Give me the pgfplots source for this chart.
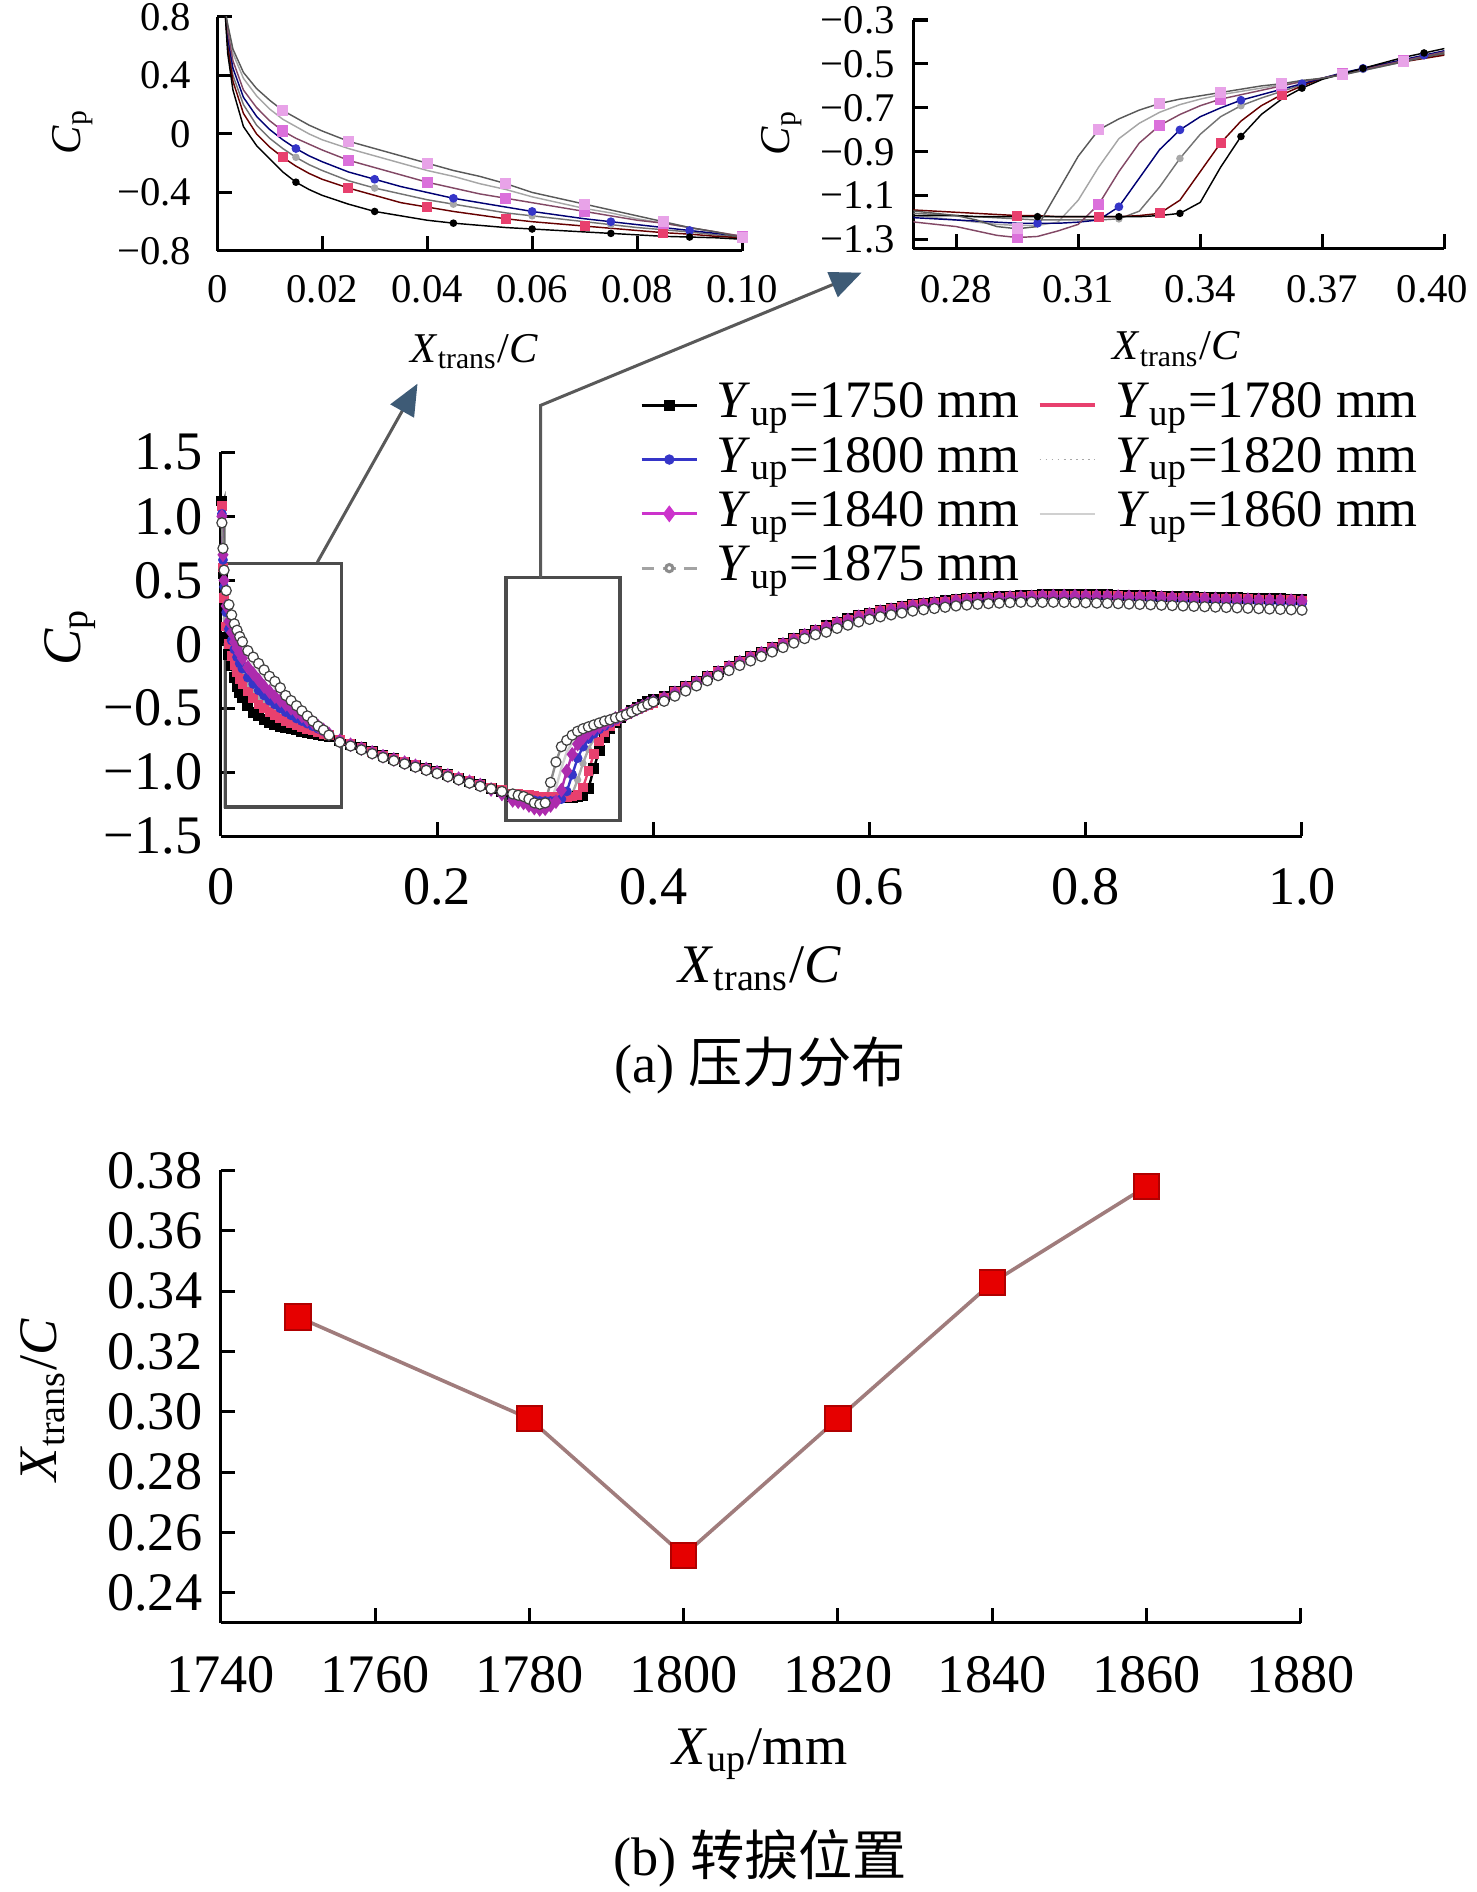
\documentclass[border=0pt]{standalone}
\usepackage{fontspec}
\setmainfont{Liberation Serif}
\newfontfamily\cjk{Noto Sans CJK SC}
\usepackage{pgfplots}
\pgfplotsset{compat=1.18}
\usepackage{pgfplotstable}
\usetikzlibrary{arrows.meta}

\definecolor{c1780}{HTML}{E8406E}
\definecolor{c1800}{HTML}{3535C8}
\definecolor{c1820}{HTML}{A8A8A8}
\definecolor{c1840}{HTML}{CC33CC}
\definecolor{c1860}{HTML}{D0D0D0}
\definecolor{c1875}{HTML}{8C8C8C}
\definecolor{arrowblue}{HTML}{3E5B76}
\definecolor{rose}{HTML}{A07C7C}
\definecolor{sqred}{HTML}{E60000}
\definecolor{sqedge}{HTML}{B00000}

% columns: a=1750 b=1780 c=1800 d=1820 e=1840 f=1860 g=1875
\pgfplotstableread{
x a b c d e f g
0.001 1.12 1.08 1.02 1.05 1.00 0.98 0.95
0.002 0.55 0.60 0.66 0.63 0.70 0.72 0.75
0.003 0.30 0.36 0.45 0.40 0.50 0.55 0.58
0.005 0.05 0.14 0.25 0.20 0.30 0.38 0.42
0.0075 -0.08 0.00 0.12 0.06 0.18 0.26 0.31
0.010 -0.17 -0.09 0.03 -0.03 0.09 0.17 0.23
0.0125 -0.26 -0.16 -0.04 -0.10 0.02 0.10 0.16
0.015 -0.33 -0.22 -0.10 -0.16 -0.03 0.05 0.11
0.0175 -0.38 -0.27 -0.15 -0.21 -0.07 0.00 0.06
0.020 -0.42 -0.31 -0.19 -0.25 -0.11 -0.04 0.02
0.025 -0.48 -0.37 -0.26 -0.32 -0.18 -0.10 -0.05
0.030 -0.53 -0.42 -0.31 -0.37 -0.23 -0.15 -0.10
0.035 -0.56 -0.47 -0.36 -0.41 -0.28 -0.20 -0.15
0.040 -0.59 -0.50 -0.40 -0.45 -0.33 -0.25 -0.20
0.045 -0.61 -0.53 -0.44 -0.48 -0.37 -0.29 -0.25
0.050 -0.625 -0.555 -0.47 -0.51 -0.41 -0.34 -0.29
0.055 -0.64 -0.58 -0.50 -0.54 -0.44 -0.38 -0.34
0.060 -0.65 -0.60 -0.53 -0.56 -0.47 -0.43 -0.40
0.065 -0.66 -0.615 -0.555 -0.58 -0.50 -0.47 -0.44
0.070 -0.67 -0.63 -0.58 -0.60 -0.53 -0.51 -0.48
0.075 -0.68 -0.645 -0.60 -0.62 -0.56 -0.54 -0.52
0.080 -0.69 -0.66 -0.62 -0.64 -0.59 -0.58 -0.56
0.085 -0.70 -0.675 -0.64 -0.655 -0.61 -0.61 -0.60
0.090 -0.705 -0.685 -0.66 -0.67 -0.64 -0.64 -0.64
0.095 -0.71 -0.70 -0.68 -0.69 -0.67 -0.67 -0.67
0.100 -0.72 -0.71 -0.70 -0.71 -0.70 -0.70 -0.71
0.11 -0.75 -0.75 -0.755 -0.745 -0.755 -0.75 -0.765
0.12 -0.78 -0.78 -0.785 -0.775 -0.785 -0.78 -0.795
0.13 -0.81 -0.81 -0.815 -0.805 -0.815 -0.81 -0.825
0.14 -0.84 -0.84 -0.845 -0.835 -0.845 -0.84 -0.855
0.15 -0.87 -0.87 -0.875 -0.865 -0.875 -0.87 -0.885
0.16 -0.895 -0.895 -0.90 -0.89 -0.90 -0.895 -0.91
0.17 -0.92 -0.92 -0.925 -0.915 -0.925 -0.92 -0.935
0.18 -0.945 -0.945 -0.95 -0.94 -0.95 -0.945 -0.96
0.19 -0.97 -0.97 -0.975 -0.965 -0.975 -0.97 -0.985
0.20 -0.995 -0.995 -1.00 -0.99 -1.00 -0.995 -1.01
0.21 -1.02 -1.02 -1.025 -1.015 -1.025 -1.02 -1.035
0.22 -1.045 -1.045 -1.05 -1.04 -1.05 -1.045 -1.06
0.23 -1.07 -1.07 -1.075 -1.065 -1.075 -1.07 -1.085
0.24 -1.095 -1.095 -1.10 -1.09 -1.10 -1.095 -1.11
0.25 -1.125 -1.12 -1.13 -1.12 -1.135 -1.13 -1.13
0.26 -1.15 -1.14 -1.16 -1.15 -1.17 -1.16 -1.15
0.270 -1.19 -1.165 -1.20 -1.18 -1.22 -1.19 -1.17
0.275 -1.19 -1.17 -1.205 -1.185 -1.23 -1.20 -1.18
0.280 -1.19 -1.175 -1.21 -1.19 -1.24 -1.21 -1.19
0.285 -1.195 -1.18 -1.215 -1.195 -1.26 -1.22 -1.21
0.290 -1.195 -1.185 -1.22 -1.20 -1.28 -1.23 -1.24
0.295 -1.195 -1.19 -1.225 -1.205 -1.29 -1.235 -1.25
0.300 -1.195 -1.19 -1.225 -1.21 -1.285 -1.235 -1.24
0.305 -1.195 -1.195 -1.225 -1.21 -1.26 -1.22 -1.08
0.310 -1.195 -1.195 -1.22 -1.21 -1.23 -1.12 -0.92
0.315 -1.195 -1.195 -1.21 -1.21 -1.14 -0.97 -0.80
0.320 -1.195 -1.195 -1.15 -1.205 -0.99 -0.84 -0.75
0.325 -1.195 -1.19 -1.02 -1.17 -0.86 -0.77 -0.71
0.330 -1.19 -1.18 -0.89 -1.06 -0.78 -0.72 -0.68
0.335 -1.18 -1.12 -0.80 -0.93 -0.73 -0.685 -0.66
0.340 -1.13 -0.99 -0.74 -0.82 -0.69 -0.66 -0.645
0.345 -0.97 -0.86 -0.70 -0.74 -0.66 -0.64 -0.63
0.350 -0.83 -0.76 -0.665 -0.69 -0.64 -0.625 -0.615
0.355 -0.73 -0.69 -0.64 -0.655 -0.62 -0.61 -0.60
0.360 -0.66 -0.64 -0.615 -0.625 -0.60 -0.595 -0.59
0.365 -0.61 -0.60 -0.59 -0.595 -0.58 -0.58 -0.575
0.370 -0.57 -0.565 -0.565 -0.565 -0.565 -0.565 -0.565
0.375 -0.545 -0.545 -0.54 -0.545 -0.545 -0.548 -0.55
0.380 -0.52 -0.525 -0.52 -0.525 -0.525 -0.53 -0.53
0.385 -0.495 -0.505 -0.50 -0.505 -0.505 -0.51 -0.51
0.390 -0.47 -0.49 -0.48 -0.485 -0.485 -0.49 -0.49
0.395 -0.45 -0.475 -0.46 -0.47 -0.465 -0.47 -0.47
0.400 -0.43 -0.46 -0.44 -0.455 -0.445 -0.455 -0.45
0.41 -0.41 -0.415 -0.425 -0.42 -0.42 -0.43 -0.445
0.42 -0.37 -0.375 -0.385 -0.38 -0.38 -0.39 -0.405
0.43 -0.33 -0.335 -0.345 -0.34 -0.34 -0.35 -0.365
0.44 -0.29 -0.295 -0.305 -0.30 -0.30 -0.31 -0.325
0.45 -0.25 -0.255 -0.265 -0.26 -0.26 -0.27 -0.285
0.46 -0.21 -0.215 -0.225 -0.22 -0.22 -0.23 -0.245
0.47 -0.17 -0.175 -0.185 -0.18 -0.18 -0.19 -0.205
0.48 -0.13 -0.135 -0.145 -0.14 -0.14 -0.15 -0.165
0.49 -0.095 -0.10 -0.11 -0.105 -0.105 -0.115 -0.13
0.50 -0.06 -0.065 -0.075 -0.07 -0.07 -0.08 -0.095
0.51 -0.025 -0.03 -0.04 -0.035 -0.035 -0.045 -0.06
0.52 0.01 0.005 -0.005 0.00 0.00 -0.01 -0.025
0.53 0.045 0.04 0.03 0.035 0.035 0.025 0.01
0.54 0.08 0.075 0.065 0.07 0.07 0.06 0.045
0.55 0.11 0.105 0.095 0.10 0.10 0.09 0.075
0.56 0.145 0.14 0.12 0.13 0.135 0.115 0.095
0.57 0.175 0.17 0.15 0.16 0.165 0.145 0.125
0.58 0.20 0.195 0.175 0.185 0.19 0.17 0.15
0.59 0.225 0.22 0.20 0.21 0.215 0.195 0.175
0.60 0.245 0.24 0.22 0.23 0.235 0.215 0.195
0.61 0.265 0.26 0.24 0.25 0.255 0.235 0.215
0.62 0.28 0.275 0.255 0.265 0.27 0.25 0.23
0.63 0.295 0.29 0.27 0.28 0.285 0.265 0.245
0.64 0.31 0.305 0.285 0.295 0.30 0.28 0.26
0.65 0.32 0.315 0.295 0.305 0.31 0.29 0.27
0.66 0.33 0.325 0.305 0.315 0.32 0.30 0.28
0.67 0.34 0.335 0.315 0.325 0.33 0.31 0.29
0.68 0.35 0.345 0.325 0.335 0.34 0.32 0.30
0.69 0.357 0.352 0.332 0.342 0.347 0.327 0.307
0.70 0.363 0.358 0.338 0.348 0.353 0.333 0.313
0.71 0.368 0.363 0.343 0.353 0.358 0.338 0.318
0.72 0.372 0.367 0.347 0.357 0.362 0.342 0.322
0.73 0.376 0.371 0.351 0.361 0.366 0.346 0.326
0.74 0.379 0.374 0.354 0.364 0.369 0.349 0.329
0.75 0.381 0.376 0.356 0.366 0.371 0.351 0.331
0.76 0.388 0.38 0.356 0.368 0.376 0.348 0.328
0.77 0.39 0.382 0.358 0.37 0.378 0.35 0.329
0.78 0.39 0.382 0.358 0.37 0.378 0.35 0.328
0.79 0.39 0.382 0.358 0.37 0.378 0.35 0.327
0.80 0.389 0.381 0.357 0.369 0.377 0.349 0.325
0.81 0.388 0.38 0.356 0.368 0.376 0.348 0.323
0.82 0.387 0.379 0.355 0.367 0.375 0.347 0.321
0.83 0.385 0.377 0.353 0.365 0.373 0.345 0.318
0.84 0.383 0.375 0.351 0.363 0.371 0.343 0.315
0.85 0.381 0.373 0.349 0.361 0.369 0.341 0.312
0.86 0.379 0.371 0.347 0.359 0.367 0.339 0.309
0.87 0.377 0.369 0.345 0.357 0.365 0.337 0.306
0.88 0.375 0.367 0.343 0.355 0.363 0.335 0.303
0.89 0.373 0.365 0.341 0.353 0.361 0.333 0.300
0.90 0.371 0.363 0.339 0.351 0.359 0.331 0.297
0.91 0.369 0.361 0.337 0.349 0.357 0.329 0.294
0.92 0.367 0.359 0.335 0.347 0.355 0.327 0.291
0.93 0.365 0.357 0.333 0.345 0.353 0.325 0.288
0.94 0.363 0.355 0.331 0.343 0.351 0.323 0.285
0.95 0.361 0.353 0.329 0.341 0.349 0.321 0.282
0.96 0.359 0.351 0.327 0.339 0.347 0.319 0.279
0.97 0.357 0.349 0.325 0.337 0.345 0.317 0.276
0.98 0.355 0.347 0.323 0.335 0.343 0.315 0.273
0.99 0.353 0.345 0.321 0.333 0.341 0.313 0.270
1.00 0.351 0.343 0.319 0.331 0.339 0.311 0.267
}\cpdata

\pgfplotsset{
  myaxis/.style={scale only axis, anchor=south west,
    axis x line*=bottom, axis y line*=left, tick align=inside,
    major tick length=1.2mm,
    axis line style={line width=0.25mm, black},
    major tick style={line width=0.25mm, black}},
  bigfont/.style={tick label style={font=\fontsize{12.8}{15}\selectfont},
    label style={font=\fontsize{12.8}{15}\selectfont}},
  smallfont/.style={tick label style={font=\fontsize{9.6}{11.5}\selectfont},
    label style={font=\fontsize{10}{12}\selectfont}},
  insetline/.style={line width=0.12mm},
}

\begin{document}
\begin{tikzpicture}
\useasboundingbox (0,0) rectangle (122.4mm,156.8mm);

% ---------------- inset 1 ----------------
\begin{axis}[myaxis, smallfont, at={(18.0mm,136.0mm)}, width=43.5mm, height=19.4mm,
  xmin=0, xmax=0.1, ymin=-0.8, ymax=0.8,
  xtick={0,0.02,0.04,0.06,0.08,0.1}, xticklabels={0,0.02,0.04,0.06,0.08,0.10},
  ytick={-0.8,-0.4,0,0.4,0.8}, yticklabels={−0.8,−0.4,0,0.4,0.8},
  xticklabel style={yshift=-0.8mm}, yticklabel style={xshift=-0.9mm},
  xlabel={\textit{X}\textsubscript{trans}/\textit{C}}, ylabel={\textit{C}\textsubscript{p}},
  xlabel style={at={(axis description cs:0.49,-0.43)}, anchor=center},
  ylabel style={at={(axis description cs:-0.276,0.51)}, anchor=center}]
\addplot[black!35, insetline] table[x=x,y=f]{\cpdata};
\addplot[black!55, insetline, mark=*, mark size=0.25mm, mark options={c1820}, mark indices={7,11,14,17,20,23,46,50,54,58,62,66}] table[x=x,y=d]{\cpdata};
\addplot[red!40!black, insetline, mark=square*, mark size=0.35mm, mark options={c1780}, mark indices={6,10,13,16,19,22,25,45,49,53,57,61,65,69}] table[x=x,y=b]{\cpdata};
\addplot[blue!45!black, insetline, mark=*, mark size=0.3mm, mark options={c1800}, mark indices={7,11,14,17,20,23,26,46,50,54,58,62,66}] table[x=x,y=c]{\cpdata};
\addplot[magenta!45!black, insetline, mark=square*, mark size=0.4mm, mark options={c1840!70}, mark indices={6,10,13,16,19,22,25,45,49,53,57,61,65,69}] table[x=x,y=e]{\cpdata};
\addplot[black, insetline, mark=*, mark size=0.25mm, mark indices={7,11,14,17,20,23,26,46,50,54,58,62,66}] table[x=x,y=a]{\cpdata};
\addplot[black!65, insetline, mark=square*, mark size=0.4mm, mark options={c1840!45}, mark indices={6,10,13,16,19,22,25,45,49,53,57,61,65,69}] table[x=x,y=g]{\cpdata};
\end{axis}

% ---------------- inset 2 ----------------
\begin{axis}[myaxis, smallfont, at={(75.7mm,136.2mm)}, width=44.0mm, height=18.94mm,
  xmin=0.2695, xmax=0.40, ymin=-1.34, ymax=-0.3,
  xtick={0.28,0.31,0.34,0.37,0.40}, xticklabels={0.28,0.31,0.34,0.37,{\hspace*{-2mm}0.40}},
  ytick={-1.3,-1.1,-0.9,-0.7,-0.5,-0.3}, yticklabels={−1.3,−1.1,−0.9,−0.7,−0.5,−0.3},
  xticklabel style={yshift=-1.0mm}, yticklabel style={xshift=-0.3mm},
  xlabel={\textit{X}\textsubscript{trans}/\textit{C}}, ylabel={\textit{C}\textsubscript{p}},
  xlabel style={at={(axis description cs:0.495,-0.44)}, anchor=center},
  ylabel style={at={(axis description cs:-0.248,0.507)}, anchor=center}]
\addplot[black!35, insetline] table[x=x,y=f]{\cpdata};
\addplot[black!55, insetline, mark=*, mark size=0.25mm, mark options={c1820}, mark indices={7,11,14,17,20,23,46,50,54,58,62,66}] table[x=x,y=d]{\cpdata};
\addplot[red!40!black, insetline, mark=square*, mark size=0.35mm, mark options={c1780}, mark indices={6,10,13,16,19,22,25,45,49,53,57,61,65,69}] table[x=x,y=b]{\cpdata};
\addplot[blue!45!black, insetline, mark=*, mark size=0.3mm, mark options={c1800}, mark indices={7,11,14,17,20,23,26,46,50,54,58,62,66}] table[x=x,y=c]{\cpdata};
\addplot[magenta!45!black, insetline, mark=square*, mark size=0.4mm, mark options={c1840!70}, mark indices={6,10,13,16,19,22,25,45,49,53,57,61,65,69}] table[x=x,y=e]{\cpdata};
\addplot[black, insetline, mark=*, mark size=0.25mm, mark indices={7,11,14,17,20,23,26,46,50,54,58,62,66}] table[x=x,y=a]{\cpdata};
\addplot[black!65, insetline, mark=square*, mark size=0.4mm, mark options={c1840!45}, mark indices={6,10,13,16,19,22,25,45,49,53,57,61,65,69}] table[x=x,y=g]{\cpdata};
\end{axis}

% ---------------- main plot ----------------
\begin{axis}[myaxis, bigfont, at={(18.3mm,87.5mm)}, width=89.6mm, height=31.8mm,
  xmin=0, xmax=1, ymin=-1.5, ymax=1.5,
  xtick={0,0.2,0.4,0.6,0.8,1}, xticklabels={0,0.2,0.4,0.6,0.8,1.0},
  ytick={-1.5,-1,-0.5,0,0.5,1,1.5}, yticklabels={−1.5,−1.0,−0.5,0,0.5,1.0,1.5},
  xticklabel style={yshift=-1.4mm}, yticklabel style={xshift=-0.3mm},
  xlabel={\textit{X}\textsubscript{trans}/\textit{C}}, ylabel={\textit{C}\textsubscript{p}},
  xlabel style={at={(axis description cs:0.499,-0.345)}, anchor=center},
  ylabel style={at={(axis description cs:-0.1395,0.519)}, anchor=center},
  legend columns=2, legend cell align=left,
  legend style={at={(0.387,1.196)}, anchor=north west, draw=none, fill=none,
    inner sep=0pt, font=\fontsize{12.4}{15}\selectfont, column sep=1.5mm, row sep=0pt,
    nodes={inner sep=0pt, text height=3.3mm, text depth=1.2mm}},
  legend image code/.code={\draw[mark repeat=2,mark phase=2,#1] plot coordinates {(0mm,0mm) (2.3mm,0mm) (4.6mm,0mm)};}]
\addplot[c1860, line width=0.2mm, forget plot] table[x=x,y=f]{\cpdata};
\addplot[c1820, line width=0.2mm, mark=*, mark size=0.2mm, forget plot] table[x=x,y=d]{\cpdata};
\addplot[black, line width=0.2mm, mark=square*, mark size=0.35mm, forget plot] table[x=x,y=a]{\cpdata};
\addplot[c1780, line width=0.2mm, mark=square*, mark size=0.3mm, forget plot] table[x=x,y=b]{\cpdata};
\addplot[c1800, line width=0.2mm, mark=*, mark size=0.3mm, forget plot] table[x=x,y=c]{\cpdata};
\addplot[c1840!85!black, line width=0.2mm, mark=diamond*, mark size=0.45mm, forget plot] table[x=x,y=e]{\cpdata};
\addplot[c1875, line width=0.2mm, mark=*, mark size=0.42mm, mark options={fill=white, draw=black!75, line width=0.1mm}, forget plot] table[x=x,y=g]{\cpdata};
\addplot[black!60, line width=0.15mm, forget plot] coordinates {(0.0035,-1.28) (0.0035,1.15) (0.001,1.08)};
\draw[line width=0.3mm, black!70] (axis cs:0.0045,0.632) rectangle (axis cs:0.1116,-1.274);
\draw[line width=0.3mm, black!70] (axis cs:0.264,0.522) rectangle (axis cs:0.369,-1.377);
\addlegendimage{black, line width=0.25mm, mark=square*, mark size=0.35mm}
\addlegendentry{\textit{Y}\textsubscript{up}=1750 mm}
\addlegendimage{c1780, line width=0.35mm}
\addlegendentry{\textit{Y}\textsubscript{up}=1780 mm}
\addlegendimage{c1800, line width=0.25mm, mark=*, mark size=0.3mm}
\addlegendentry{\textit{Y}\textsubscript{up}=1800 mm}
\addlegendimage{c1820, line width=0.15mm, densely dotted}
\addlegendentry{\textit{Y}\textsubscript{up}=1820 mm}
\addlegendimage{c1840, line width=0.25mm, mark=diamond*, mark size=0.5mm}
\addlegendentry{\textit{Y}\textsubscript{up}=1840 mm}
\addlegendimage{c1860, line width=0.15mm}
\addlegendentry{\textit{Y}\textsubscript{up}=1860 mm}
\addlegendimage{c1875!80, line width=0.25mm, densely dashed, mark=*, mark size=0.3mm, mark options={solid, fill=white, draw=c1875}}
\addlegendentry{\textit{Y}\textsubscript{up}=1875 mm}
\end{axis}

% zoom arrows
\draw[line width=0.25mm, black!65, -{Triangle[length=2.6mm,width=2.2mm,color=arrowblue]}] (26.3mm,110.2mm) -- (34.6mm,125.0mm);
\draw[line width=0.25mm, black!65, -{Triangle[length=2.6mm,width=2.2mm,color=arrowblue]}] (44.8mm,108.9mm) -- (44.8mm,123.2mm) -- (71.4mm,134.2mm);

\node[font=\fontsize{12.8}{15}\selectfont] at (63mm,68.5mm) {(a) {\cjk 压力分布}};

% ---------------- bottom plot ----------------
\begin{axis}[myaxis, bigfont, at={(18.3mm,22.3mm)}, width=89.5mm, height=37.5mm,
  xmin=1740, xmax=1880, ymin=0.230, ymax=0.38,
  xtick={1740,1760,1780,1800,1820,1840,1860,1880},
  xticklabels={1740,1760,1780,1800,1820,1840,1860,1880},
  ytick={0.24,0.26,0.28,0.30,0.32,0.34,0.36,0.38},
  yticklabels={0.24,0.26,0.28,0.30,0.32,0.34,0.36,0.38},
  xticklabel style={yshift=-1.5mm}, yticklabel style={xshift=-0.3mm},
  xlabel={\textit{X}\textsubscript{up}/mm}, ylabel={\textit{X}\textsubscript{trans}/\textit{C}},
  xlabel style={at={(axis description cs:0.4994,-0.29)}, anchor=center},
  ylabel style={at={(axis description cs:-0.165,0.493)}, anchor=center}]
\addplot[rose, line width=0.3mm, mark=square*, mark size=1.05mm, mark options={fill=sqred, draw=sqedge, line width=0.15mm}]
  coordinates {(1750,0.3314) (1780,0.2977) (1800,0.2524) (1820,0.2977) (1840,0.3428) (1860,0.3747)};
\end{axis}

\node[font=\fontsize{12.8}{15}\selectfont] at (63mm,2.8mm) {(b) {\cjk 转捩位置}};
\end{tikzpicture}
\end{document}
